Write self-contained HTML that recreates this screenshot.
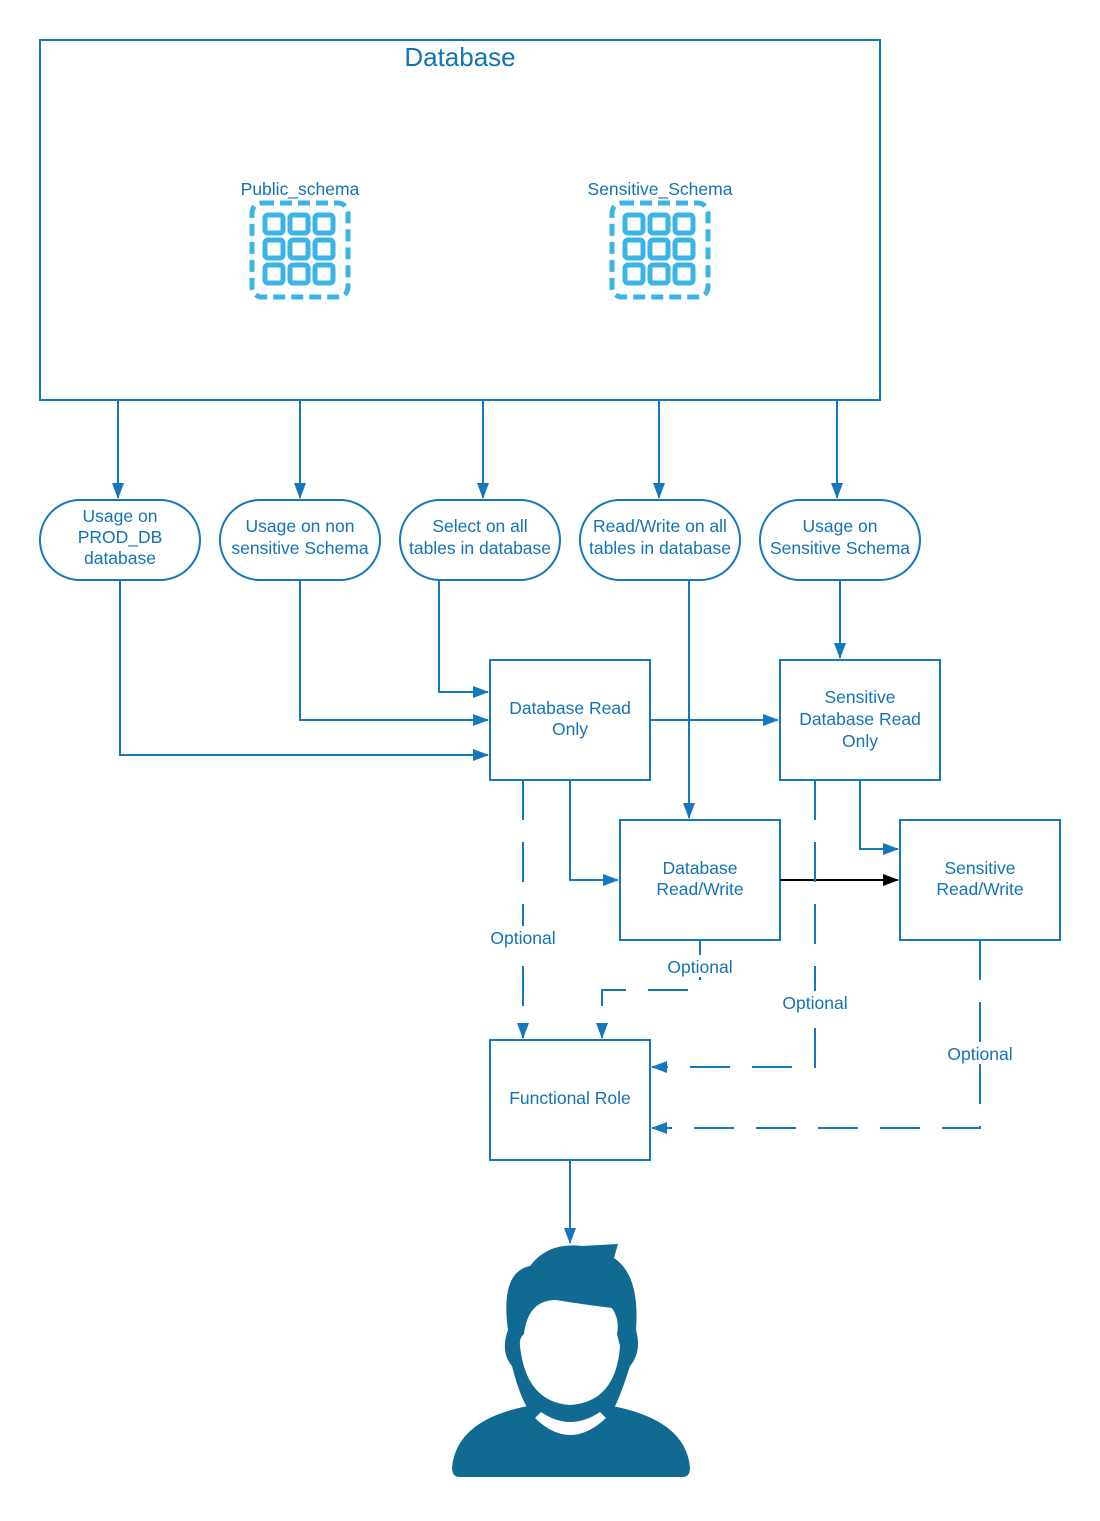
<!DOCTYPE html>
<html><head><meta charset="utf-8"><style>
html,body{margin:0;padding:0;background:#fff;}
svg{display:block;}
text{font-family:"Liberation Sans",sans-serif;fill:#1473b5;}
</style></head><body>
<svg width="1100" height="1521" viewBox="0 0 1100 1521" xmlns="http://www.w3.org/2000/svg">
<defs>
<marker id="a" markerWidth="16" markerHeight="14" refX="15" refY="7" orient="auto" markerUnits="userSpaceOnUse"><path d="M0,1 L16,7 L0,13 Z" fill="#1478bd"/></marker>
<marker id="k" markerWidth="16" markerHeight="14" refX="15" refY="7" orient="auto" markerUnits="userSpaceOnUse"><path d="M0,1 L16,7 L0,13 Z" fill="#000"/></marker>
<g id="icon">
<rect x="0" y="0" width="96" height="94" rx="10" fill="none" stroke="#3ab4e6" stroke-width="5" stroke-dasharray="12,6"/>
<g fill="none" stroke="#3ab4e6" stroke-width="5">
<rect x="13" y="12" width="18" height="18" rx="3"/><rect x="38" y="12" width="18" height="18" rx="3"/><rect x="63" y="12" width="18" height="18" rx="3"/>
<rect x="13" y="37" width="18" height="18" rx="3"/><rect x="38" y="37" width="18" height="18" rx="3"/><rect x="63" y="37" width="18" height="18" rx="3"/>
<rect x="13" y="62" width="18" height="18" rx="3"/><rect x="38" y="62" width="18" height="18" rx="3"/><rect x="63" y="62" width="18" height="18" rx="3"/>
</g></g>
</defs>
<rect width="1100" height="1521" fill="#fff"/>
<g fill="none" stroke="#1478bd" stroke-width="2">
<rect x="40" y="40" width="840" height="360"/>
<rect x="40" y="500" width="160" height="80" rx="40"/>
<rect x="220" y="500" width="160" height="80" rx="40"/>
<rect x="400" y="500" width="160" height="80" rx="40"/>
<rect x="580" y="500" width="160" height="80" rx="40"/>
<rect x="760" y="500" width="160" height="80" rx="40"/>
<rect x="490" y="660" width="160" height="120"/>
<rect x="780" y="660" width="160" height="120"/>
<rect x="620" y="820" width="160" height="120"/>
<rect x="900" y="820" width="160" height="120"/>
<rect x="490" y="1040" width="160" height="120"/>
</g>
<use href="#icon" x="252" y="203"/>
<use href="#icon" x="612" y="203"/>
<g fill="none" stroke="#1478bd" stroke-width="2" marker-end="url(#a)">
<path d="M118,400 V498"/><path d="M300,400 V498"/><path d="M483,400 V498"/><path d="M659,400 V498"/><path d="M837,400 V498"/>
<path d="M120,580 V755 H488"/>
<path d="M300,580 V720 H488"/>
<path d="M439,580 V692 H488"/>
<path d="M689,580 V818"/>
<path d="M840,580 V658"/>
<path d="M650,720 H778"/>
<path d="M570,780 V880 H618"/>
<path d="M860,780 V849 H898"/>
<path d="M570,1160 V1243"/>
</g>
<path d="M780,880 H898" stroke="#000" stroke-width="2" fill="none" marker-end="url(#k)"/>
<g fill="none" stroke="#1478bd" stroke-width="2" stroke-dasharray="40,22" marker-end="url(#a)">
<path d="M523,780 V1038"/>
<path d="M700,940 V990 H602 V1038"/>
<path d="M815,780 V1067 H652"/>
<path d="M980,940 V1128 H652"/>
</g>
<g fill="#fff">
<rect x="486" y="926" width="74" height="22"/>
<rect x="662" y="955" width="76" height="22"/>
<rect x="778" y="991" width="74" height="22"/>
<rect x="943" y="1042" width="74" height="22"/>
</g>
<g font-size="17.5" text-anchor="middle">
<text x="523" y="944">Optional</text>
<text x="700" y="973">Optional</text>
<text x="815" y="1009">Optional</text>
<text x="980" y="1060">Optional</text>
</g>
<text x="460" y="66" font-size="26" text-anchor="middle">Database</text>
<g font-size="17.5" text-anchor="middle">
<text x="300" y="195">Public_schema</text>
<text x="660" y="195">Sensitive_Schema</text>
<text x="120" y="522">Usage on</text><text x="120" y="543">PROD_DB</text><text x="120" y="564">database</text>
<text x="300" y="532">Usage on non</text><text x="300" y="554">sensitive Schema</text>
<text x="480" y="532">Select on all</text><text x="480" y="554">tables in database</text>
<text x="660" y="532">Read/Write on all</text><text x="660" y="554">tables in database</text>
<text x="840" y="532">Usage on</text><text x="840" y="554">Sensitive Schema</text>
<text x="570" y="714">Database Read</text><text x="570" y="735">Only</text>
<text x="860" y="703">Sensitive</text><text x="860" y="725">Database Read</text><text x="860" y="747">Only</text>
<text x="700" y="874">Database</text><text x="700" y="895">Read/Write</text>
<text x="980" y="874">Sensitive</text><text x="980" y="895">Read/Write</text>
<text x="570" y="1104">Functional Role</text>
</g>
<g fill="#106a91">
<path d="M508,1330 Q500,1272 530,1266 Q548,1242 582,1246 L618,1244 L614,1258 Q640,1275 636,1330 Q642,1352 630,1366 Q620,1398 612,1412 L530,1412 Q520,1398 512,1366 Q500,1352 508,1330Z"/>
<path d="M452,1468 Q456,1420 528,1406 L612,1406 Q686,1420 690,1468 Q690,1477 682,1477 L460,1477 Q452,1477 452,1468Z"/>
</g>
<g fill="#fff">
<path d="M524,1334 Q528,1300 556,1300 Q580,1304 612,1308 Q620,1320 617,1334 L620,1346 Q616,1402 570,1405 Q526,1402 520,1346 Q519,1338 524,1334Z"/>
<path d="M535,1418 Q570,1452 606,1418 L600,1412 Q570,1432 541,1412Z"/>
</g>
</svg>
</body></html>
